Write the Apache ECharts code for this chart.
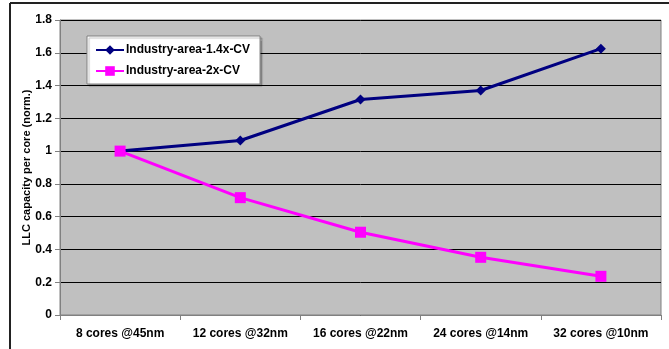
<!DOCTYPE html>
<html>
<head>
<meta charset="utf-8">
<script src="https://cdn.jsdelivr.net/npm/echarts@6/dist/echarts.min.js"></script>
<style>
  html, body { margin: 0; padding: 0; background: #fff; }
  #chart { width: 669px; height: 349px; }
</style>
</head>
<body>
<div id="chart"></div>
<script>
// Categories along the x axis
const categories = ['8 cores @45nm', '12 cores @32nm', '16 cores @22nm', '24 cores @14nm', '32 cores @10nm'];
// LLC capacity per core, normalised to the 8-core design
const area14x = [1.0, 1.065, 1.315, 1.37, 1.625];
const area2x = [1.0, 0.716, 0.505, 0.352, 0.236];
const seriesNames = ['Industry-area-1.4x-CV', 'Industry-area-2x-CV'];
const yTitle = 'LLC capacity per core (norm.)';

const font = 'Arial, "Liberation Sans", Helvetica, sans-serif';
const chart = echarts.init(document.getElementById('chart'), null, { renderer: 'canvas' });

chart.setOption({
  animation: false,
  backgroundColor: '#ffffff',
  graphic: [
    // outer frame (left and top edges)
    { type: 'line', shape: { x1: 10, y1: 3, x2: 10, y2: 349 }, style: { stroke: '#222', lineWidth: 2 } },
    { type: 'line', shape: { x1: 10, y1: 3, x2: 669, y2: 3 }, style: { stroke: '#222', lineWidth: 2 } }
  ],
  grid: {
    left: 60, right: 8, top: 20, bottom: 34,
    show: true, backgroundColor: '#c0c0c0', borderColor: '#808080', borderWidth: 1
  },
  legend: {
    orient: 'vertical',
    left: 87, top: 36,
    width: 170,
    padding: [8, 10, 7, 8],
    itemGap: 9,
    itemWidth: 28, itemHeight: 12,
    backgroundColor: '#ffffff',
    borderColor: '#808080', borderWidth: 1,
    shadowColor: 'rgba(0,0,0,0.25)', shadowOffsetX: 2, shadowOffsetY: 2, shadowBlur: 1,
    textStyle: { fontFamily: font, fontSize: 12, fontWeight: 'bold', color: '#000', padding: [0, 0, 0, -3] },
    data: seriesNames
  },
  xAxis: {
    type: 'category',
    data: categories,
    boundaryGap: true,
    axisLine: { lineStyle: { color: '#808080', width: 1 } },
    axisTick: { show: true, length: 5, inside: false, interval: 0, lineStyle: { color: '#808080' } },
    axisLabel: { fontFamily: font, fontSize: 12, fontWeight: 'bold', color: '#000', margin: 13,
      interval: 0, hideOverlap: false },
    splitLine: { show: false }
  },
  yAxis: {
    type: 'value',
    min: 0, max: 1.8, interval: 0.2,
    name: yTitle,
    nameLocation: 'middle',
    nameGap: 28,
    nameRotate: 90,
    nameMoveOverlap: false,
    nameTextStyle: { fontFamily: font, fontSize: 11, fontWeight: 'bold', color: '#000' },
    axisLine: { show: true, lineStyle: { color: '#808080', width: 1 } },
    axisTick: { show: true, length: 5, inside: false, lineStyle: { color: '#808080' } },
    axisLabel: { fontFamily: font, fontSize: 12, fontWeight: 'bold', color: '#000', margin: 8,
      formatter: v => String(Math.round(v * 10) / 10) },
    splitLine: { show: true, lineStyle: { color: '#000', width: 1 } }
  },
  series: [
    {
      name: seriesNames[0], type: 'line', data: area14x,
      symbol: 'diamond', symbolSize: 10,
      lineStyle: { color: '#000080', width: 3 },
      itemStyle: { color: '#000080' },
      z: 3
    },
    {
      name: seriesNames[1], type: 'line', data: area2x,
      symbol: 'rect', symbolSize: 11,
      lineStyle: { color: '#ff00ff', width: 3 },
      itemStyle: { color: '#ff00ff' },
      z: 4
    }
  ]
});
</script>
</body>
</html>
